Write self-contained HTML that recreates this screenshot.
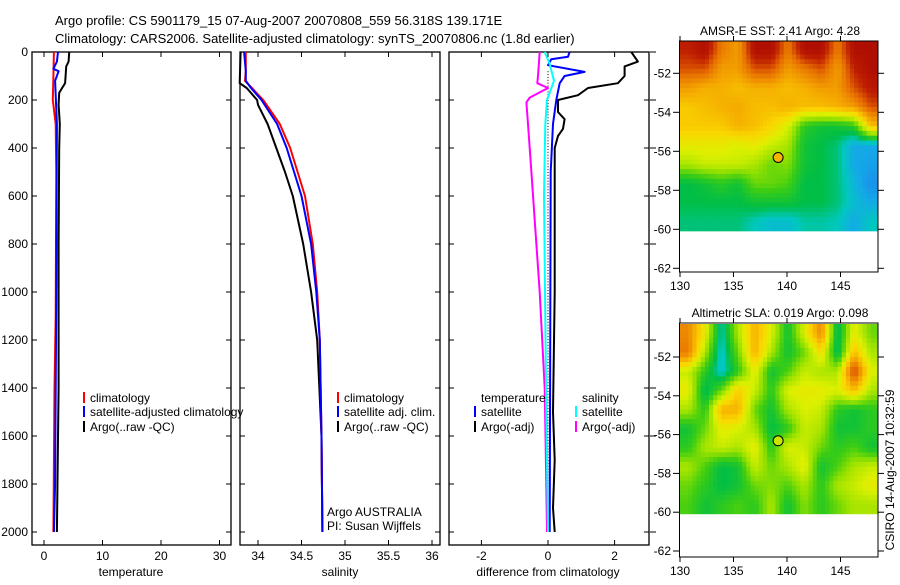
<!DOCTYPE html>
<html><head><meta charset="utf-8"><style>
body{margin:0;background:#fff}
svg text{font-family:"Liberation Sans",sans-serif;font-size:12px;fill:#000}
</style></head><body>
<svg id="c" width="900" height="580" xmlns="http://www.w3.org/2000/svg">
<defs>
<clipPath id="clipTop"><rect x="680" y="41" width="198" height="190"/></clipPath>
<clipPath id="clipBot"><rect x="680" y="323" width="198" height="190"/></clipPath>
</defs>
<text x="55" y="25" style="font-size:13px">Argo profile: CS 5901179_15 07-Aug-2007 20070808_559 56.318S 139.171E</text>
<text x="55" y="43" style="font-size:13px">Climatology: CARS2006. Satellite-adjusted climatology: synTS_20070806.nc (1.8d earlier)</text>
<g id="g"></g>
</svg>
<script>
// ---------- data ----------
const tempDepth = [0,40,60,100,130,150,170,220,300,400,800,1400,2000];
const tempArgo  = [4.3,4.2,3.8,3.7,3.6,3.1,2.6,2.5,2.7,2.6,2.5,2.5,2.2];
const tempClimDepth = [0,100,200,300,500,1100,1400,2000];
const tempClim  = [1.7,1.6,1.5,2.0,2.1,2.0,1.8,1.6];
const tempSatDepth = [0,40,70,80,120,300,1000,1800,2000];
const tempSat   = [2.4,2.2,1.6,2.5,1.9,2.2,2.1,1.9,1.7];

const salDepth  = [0,80,120,150,200,300,400,600,800,1000,1200,1600,2000];
const salClim   = [33.86,33.86,33.85,33.93,34.06,34.25,34.37,34.54,34.63,34.68,34.71,34.73,34.74];
const salSat    = [33.84,33.86,33.86,33.92,34.04,34.22,34.33,34.50,34.61,34.67,34.71,34.73,34.74];
const salArgoDepth = [0,130,150,200,220,300,400,500,600,800,1000,1200,1600,2000];
const salArgo   = [33.80,33.79,33.87,33.99,34.0,34.11,34.21,34.31,34.40,34.52,34.61,34.68,34.73,34.74];

const diffTDepth = [0,40,60,100,130,150,180,200,250,280,320,350,400,1000,1500,1700,1900,2000];
const diffTArgo  = [2.5,2.7,2.3,2.3,2.1,1.2,0.9,0.3,0.3,0.5,0.45,0.3,0.2,0.2,0.15,0.2,0.15,0.2];
const diffTSatDepth = [0,20,30,55,83,100,130,200,300,500,2000];
const diffTSat   = [0.65,0.6,0.1,0.0,1.1,0.5,0.35,0.25,0.15,0.08,0.05];
const diffSSatDepth = [0,50,120,200,300,600,1500,2000];
const diffSSat   = [-0.1,0.05,0.18,-0.03,-0.08,-0.12,-0.05,0.0];
const diffSArgoDepth = [0,100,130,150,190,210,300,400,500,700,1000,1400,1800,2000];
const diffSArgo  = [-0.25,-0.3,-0.32,0.0,-0.55,-0.65,-0.6,-0.55,-0.5,-0.4,-0.25,-0.1,-0.05,-0.03];

const depthTicks = [0,200,400,600,800,1000,1200,1400,1600,1800,2000];
const tempTicks = [0,10,20,30];
const salTicks = [34,34.5,35,35.5,36];
const salTickLabels = ["34","34.5","35","35.5","36"];
const diffTicks = [-2,0,2];
const latTicks = [-52,-54,-56,-58,-60,-62];
const lonTicks = [130,135,140,145];

const sstGrid = [
[0.9,0.95,0.8,0.75,0.95,0.95,0.8,0.95,0.95,0.8,0.95,0.95],
[0.85,0.85,0.75,0.75,0.85,0.85,0.75,0.8,0.85,0.75,0.9,0.95],
[0.75,0.72,0.72,0.7,0.72,0.72,0.7,0.72,0.75,0.75,0.85,0.92],
[0.68,0.7,0.72,0.73,0.7,0.7,0.72,0.7,0.7,0.72,0.75,0.85],
[0.68,0.68,0.68,0.72,0.7,0.66,0.6,0.45,0.42,0.42,0.45,0.7],
[0.62,0.62,0.62,0.6,0.62,0.58,0.55,0.42,0.4,0.38,0.3,0.3],
[0.55,0.58,0.58,0.58,0.55,0.5,0.52,0.42,0.4,0.38,0.3,0.28],
[0.4,0.42,0.45,0.42,0.5,0.5,0.48,0.4,0.4,0.38,0.32,0.25],
[0.4,0.4,0.4,0.4,0.42,0.42,0.42,0.4,0.4,0.38,0.33,0.3],
[0.38,0.38,0.38,0.38,0.35,0.33,0.33,0.36,0.36,0.35,0.3,0.35]];
const slaGrid = [
[0.78,0.62,0.35,0.55,0.72,0.6,0.42,0.6,0.78,0.38,0.62,0.5],
[0.8,0.55,0.33,0.5,0.72,0.55,0.42,0.5,0.65,0.38,0.7,0.55],
[0.58,0.45,0.33,0.45,0.62,0.42,0.48,0.58,0.55,0.55,0.88,0.6],
[0.62,0.38,0.5,0.68,0.58,0.45,0.6,0.62,0.62,0.6,0.7,0.55],
[0.55,0.45,0.72,0.72,0.5,0.42,0.55,0.6,0.58,0.45,0.42,0.45],
[0.42,0.5,0.62,0.6,0.55,0.4,0.45,0.58,0.55,0.42,0.42,0.45],
[0.45,0.55,0.58,0.55,0.62,0.45,0.6,0.58,0.5,0.45,0.48,0.42],
[0.55,0.48,0.4,0.42,0.58,0.5,0.55,0.62,0.42,0.48,0.55,0.58],
[0.5,0.45,0.4,0.42,0.5,0.52,0.48,0.55,0.45,0.55,0.58,0.62],
[0.48,0.42,0.45,0.48,0.45,0.55,0.42,0.52,0.45,0.5,0.55,0.55]];
const argoLon = 139.171, argoLat = -56.318;

// ---------- scales ----------
const NS="http://www.w3.org/2000/svg";
const G=document.getElementById('g');
const yD = d => 52 + d*0.24;
const xT = t => 44 + 5.85*t;
const xS = s => 258 + 87*(s-34);
const xDf = v => 548 + 33.3*v;
const mapX = lon => 680 + (lon-130)*10.7;
const mapYTop = lat => 73.3 + (-52-lat)*19.5;
const mapYBot = lat => 357 + (-52-lat)*19.4;

function el(tag, attrs, parent){const e=document.createElementNS(NS,tag);for(const k in attrs)e.setAttribute(k,attrs[k]);(parent||G).appendChild(e);return e;}
function txt(x,y,s,anchor,parent){const t=el('text',{x:x,y:y,'text-anchor':anchor||'start'},parent);t.textContent=s;return t;}

function profile(depths, vals, xf, color, name){
  let d='';
  for(let i=0;i<depths.length;i++){
    const x=xf(vals[i]).toFixed(1), y=yD(depths[i]).toFixed(1);
    d+=(i===0?'M':'L')+x+' '+y;
  }
  const p=el('path',{d:d,fill:'none',stroke:color,'stroke-width':2,'stroke-linejoin':'round'});
  
  
}

function panel(x0,x1,name){
  const r=el('rect',{x:x0,y:52,width:x1-x0,height:493,fill:'none',stroke:'#000','stroke-width':1.3});
  
  
  for(const d of depthTicks){
    el('line',{x1:x0,x2:x0+5,y1:yD(d),y2:yD(d),stroke:'#000'});
    el('line',{x1:x1,x2:x1-5,y1:yD(d),y2:yD(d),stroke:'#000'});
  }
}
function xticks(ticks,labels,xf){
  ticks.forEach((t,i)=>{
    const x=xf(t);
    el('line',{x1:x,x2:x,y1:52,y2:57,stroke:'#000'});
    el('line',{x1:x,x2:x,y1:545,y2:540,stroke:'#000'});
    const l=txt(x,560,labels[i],'middle');
    
    
  });
}

panel(32,231,'temperature-panel');
panel(240,440,'salinity-panel');
panel(449,649,'difference-panel');
for(const d of depthTicks){
  const l=txt(28,yD(d)+4,String(d),'end');
  
  
  el('line',{x1:650,x2:656,y1:yD(d),y2:yD(d),stroke:'#000'});
}
xticks(tempTicks,tempTicks.map(String),xT);
xticks(salTicks,salTickLabels,xS);
xticks(diffTicks,diffTicks.map(String),xDf);
[[131,'temperature','x-axis-title-temperature'],[340,'salinity','x-axis-title-salinity'],[548,'difference from climatology','x-axis-title-difference']].forEach(a=>{
  const t=txt(a[0],576,a[1],'middle');
  
  
});

for(let d=80; d<2000; d+=12){ el('rect',{x:547.5,y:yD(d),width:1,height:1,fill:'#000'}); }

profile(tempClimDepth,tempClim,xT,'#f00','temp-climatology-line');
profile(tempSatDepth,tempSat,xT,'#00f','temp-satellite-line');
profile(tempDepth,tempArgo,xT,'#000','temp-argo-line');
profile(salArgoDepth,salArgo,xS,'#000','sal-argo-line');
profile(salDepth,salClim,xS,'#f00','sal-climatology-line');
profile(salDepth,salSat,xS,'#00f','sal-satellite-line');
profile(diffTDepth,diffTArgo,xDf,'#000','diff-temp-argo-line');
profile(diffTSatDepth,diffTSat,xDf,'#00f','diff-temp-satellite-line');
profile(diffSArgoDepth,diffSArgo,xDf,'#f0f','diff-sal-argo-line');
profile(diffSSatDepth,diffSSat,xDf,'#0ff','diff-sal-satellite-line');

function legend(x,y,color,label,name){
  if(color) el('rect',{x:x,y:y-10,width:2,height:11,fill:color});
  const t=txt(x+7,y,label);
  
  
}
legend(83,402,'#f00','climatology','legend-temp-climatology');
legend(83,416,'#00f','satellite-adjusted climatology','legend-temp-satellite');
legend(83,431,'#000','Argo(..raw -QC)','legend-temp-argo');
legend(337,402,'#f00','climatology','legend-sal-climatology');
legend(337,416,'#00f','satellite adj. clim.','legend-sal-satellite');
legend(337,431,'#000','Argo(..raw -QC)','legend-sal-argo');
legend(474,402,null,'temperature','legend-diff-temperature-head');
legend(474,416,'#00f','satellite','legend-diff-temp-satellite');
legend(474,431,'#000','Argo(-adj)','legend-diff-temp-argo');
legend(575,402,null,'salinity','legend-diff-salinity-head');
legend(575,416,'#0ff','satellite','legend-diff-sal-satellite');
legend(575,431,'#f0f','Argo(-adj)','legend-diff-sal-argo');
const a1=txt(327,516,'Argo AUSTRALIA');


const a2=txt(327,530,'PI: Susan Wijffels');



const stops=[[0.2,[30,120,240]],[0.3,[20,170,230]],[0.35,[0,200,190]],[0.4,[0,190,70]],[0.47,[60,205,20]],[0.53,[150,225,0]],[0.6,[220,240,0]],[0.66,[250,215,0]],[0.73,[245,170,0]],[0.82,[230,110,0]],[0.9,[190,30,0]],[1.0,[160,0,0]]];
function cmap(v){
  if(v<=stops[0][0]) return 'rgb('+stops[0][1]+')';
  for(let i=1;i<stops.length;i++){
    if(v<=stops[i][0]){const a=stops[i-1],b=stops[i],f=(v-a[0])/(b[0]-a[0]);
      return 'rgb('+a[1].map((c,k)=>Math.round(c+(b[1][k]-c)*f)).join(',')+')';}
  }
  return 'rgb('+stops[stops.length-1][1]+')';
}
function sample(grid,r,c){
  const rows=grid.length, cols=grid[0].length;
  r=Math.min(rows-1,Math.max(0,r)); c=Math.min(cols-1,Math.max(0,c));
  const r0=Math.floor(r), c0=Math.floor(c), r1=Math.min(rows-1,r0+1), c1=Math.min(cols-1,c0+1);
  const fr=r-r0, fc=c-c0;
  return grid[r0][c0]*(1-fr)*(1-fc)+grid[r0][c1]*(1-fr)*fc+grid[r1][c0]*fr*(1-fc)+grid[r1][c1]*fr*fc;
}

function drawMap(grid, yf, frameTop, frameBot, clipId, title, name, dotColor){
  const outer=el('g',{'clip-path':'url(#'+clipId+')'});
  
  
  const rows=grid.length, cols=grid[0].length, sub=4;
  const cw=1.55/sub, ch=0.98/sub;
  for(let r=0;r<rows*sub+sub;r++) for(let c=0;c<cols*sub+sub;c++){
    const gr=(r+0.5)/sub-0.5, gc=(c+0.5)/sub-0.5;
    const lon0=130+c*cw, lat0=-50.3-r*ch;
    const x=mapX(lon0), y=yf(lat0);
    const cell=el('rect',{x:x.toFixed(1),y:y.toFixed(1),width:(cw*10.7+0.6).toFixed(1),height:(ch*19.5+0.6).toFixed(1),fill:cmap(sample(grid,gr,gc))},outer);
    
    
  }
  const fr=el('rect',{x:679.5,y:frameTop,width:198.5,height:frameBot-frameTop,fill:'none',stroke:'#000'});
  
  
  for(const la of latTicks){
    const y=yf(la);
    el('line',{x1:673,x2:679.5,y1:y,y2:y,stroke:'#000'});
    el('line',{x1:878,x2:884,y1:y,y2:y,stroke:'#000'});
    const l=txt(671,y+4,String(la),'end');
    
    
  }
  for(const lo of lonTicks){
    const x=mapX(lo);
    el('line',{x1:x,x2:x,y1:frameTop-5,y2:frameTop,stroke:'#000'});
    el('line',{x1:x,x2:x,y1:frameBot,y2:frameBot+5,stroke:'#000'});
    const l=txt(x,frameBot+18,String(lo),'middle');
    
    
  }
  const t=txt(780,frameTop-6,title,'middle');
  
  
  const dot=el('circle',{cx:mapX(argoLon),cy:yf(argoLat),r:5,fill:dotColor,stroke:'#000'});
  
  
}
document.querySelector('#clipTop rect').setAttribute('height', (mapYTop(-60.1)-41).toFixed(1));
document.querySelector('#clipBot rect').setAttribute('height', (mapYBot(-60.1)-323).toFixed(1));
drawMap(sstGrid,mapYTop,41,272,'clipTop','AMSR-E SST: 2.41 Argo: 4.28','sst-map','#f5b400');
drawMap(slaGrid,mapYBot,323,557,'clipBot','Altimetric SLA: 0.019 Argo: 0.098','sla-map','#c8e600');

const cs=txt(0,0,'CSIRO 14-Aug-2007 10:32:59','middle');
cs.setAttribute('transform','translate(894,470) rotate(-90)');


</script>
</body></html>
